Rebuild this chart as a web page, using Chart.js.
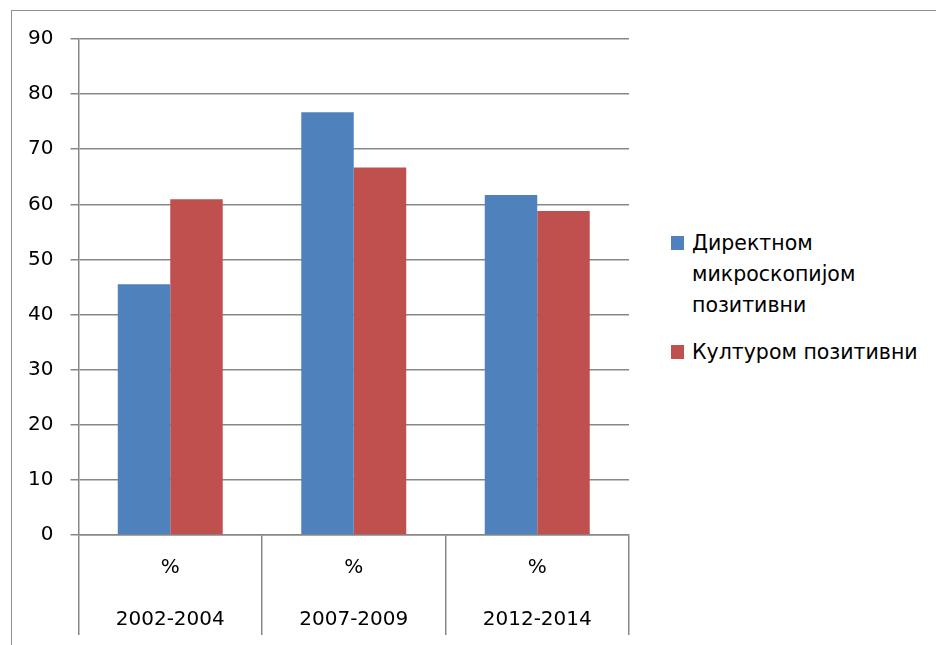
<!DOCTYPE html>
<html>
<head>
<meta charset="utf-8">
<script src="https://cdn.jsdelivr.net/npm/chart.js@4.4.1/dist/chart.umd.min.js"></script>
<style>
  html, body { margin: 0; padding: 0; background: #fff; }
  body { width: 936px; height: 645px; overflow: hidden; position: relative; font-family: "DejaVu Sans", sans-serif; }
  #frame { position: absolute; left: 11px; top: 10px; width: 2000px; height: 2000px; border: 1px solid #8f8f8f; }
  #wrap { position: absolute; left: 0; top: 0; width: 640px; height: 645px; }
  #legend { position: absolute; left: 671px; top: 228px; color: #000; font-size: 20.5px; }
  .item { position: relative; padding-left: 21px; line-height: 31px; margin-bottom: 16px; width: 260px; }
  .swatch { position: absolute; left: 0; top: 8px; width: 13px; height: 14px; }
</style>
</head>
<body>
<div id="frame"></div>
<div id="wrap"><canvas id="chart"></canvas></div>
<div id="legend"></div>
<script>
// categories and values (%)
const periods = ['2002-2004', '2007-2009', '2012-2014'];
const unitLabel = '%';
const microscopy = [45.5, 76.7, 61.7];
const culture = [60.9, 66.7, 58.8];
const seriesNames = ['Директном микроскопијом позитивни', 'Културом позитивни'];
const legendLines = [['Директном', 'микроскопијом', 'позитивни'], ['Културом позитивни']];
const seriesColors = ['#4F81BD', '#C0504D'];

const gridGray = '#878787';
const font = { family: '"DejaVu Sans", sans-serif', size: 20 };

const ctx = document.getElementById('chart').getContext('2d');
const chart = new Chart(ctx, {
  type: 'bar',
  data: {
    labels: periods.map(p => [unitLabel, p]),
    datasets: [microscopy, culture].map((vals, i) => ({
      label: seriesNames[i],
      data: vals,
      backgroundColor: seriesColors[i],
      categoryPercentage: 0.572,
      barPercentage: 1.0
    }))
  },
  options: {
    animation: false,
    responsive: true,
    maintainAspectRatio: false,
    layout: { padding: { top: 39, right: 11, left: 0, bottom: 10 } },
    plugins: { legend: { display: false }, tooltip: { enabled: false } },
    scales: {
      x: {
        offset: true,
        grid: {
          offset: true,
          drawOnChartArea: false,
          color: gridGray,
          lineWidth: 1.5,
          tickLength: 100
        },
        border: { color: gridGray, width: 1.5 },
        ticks: {
          color: '#000',
          font: { ...font, lineHeight: 2.6 },
          padding: -93,
          maxRotation: 0
        },
        afterFit(scale) { scale.height = 100; }
      },
      y: {
        min: 0,
        max: 90,
        grid: { color: gridGray, lineWidth: 1.5, tickLength: 8 },
        border: { color: gridGray, width: 1.5 },
        ticks: { stepSize: 10, color: '#000', font, padding: 17 },
        afterFit(scale) { scale.width = 78.5; }
      }
    }
  }
});

// legend with wrapped series names
const legend = document.getElementById('legend');
legendLines.forEach((lines, i) => {
  const item = document.createElement('div');
  item.className = 'item';
  const sw = document.createElement('span');
  sw.className = 'swatch';
  sw.style.background = seriesColors[i];
  item.appendChild(sw);
  item.appendChild(document.createTextNode(lines[0]));
  lines.slice(1).forEach(t => {
    item.appendChild(document.createElement('br'));
    item.appendChild(document.createTextNode(t));
  });
  legend.appendChild(item);
});
</script>
</body>
</html>
